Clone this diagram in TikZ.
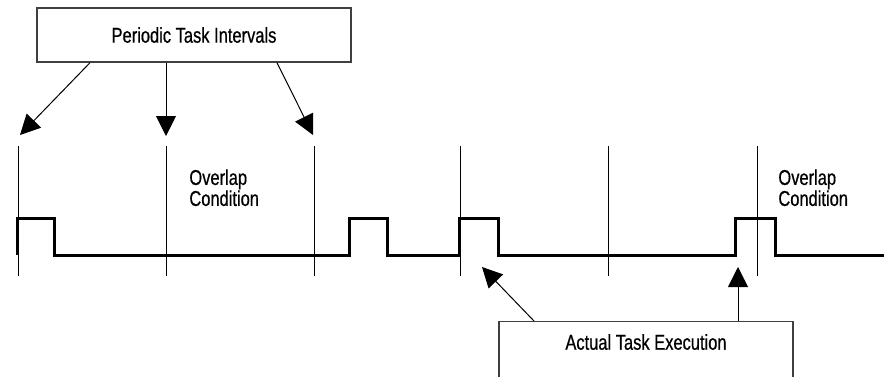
\documentclass[tikz,border=0pt]{standalone}
\usepackage{fontspec}
\setmainfont{Liberation Sans}[FakeStretch=0.77, FakeBold=0.6]
\usepackage{tikz}
\usetikzlibrary{arrows.meta,positioning}

\begin{document}
\begin{tikzpicture}[
    x=0.5pt, y=-0.5pt,
    every node/.style={font=\fontsize{10.7}{10.5}\selectfont},
    box/.style={
        rectangle,
        draw=black!75,
        line width=0.7pt,
        fill=white,
        text centered
    },
    arrow/.style={-{Triangle[length=10pt,width=10pt]}, line width=0.5pt},
    tick/.style={line width=0.5pt},
    signal/.style={line width=1.5pt, line join=miter}
]
\clip (0,0) rectangle (895,376);

% Nodes
\node[box, minimum width=157pt, minimum height=27pt] (periodic) at (194,35)
{Periodic Task Intervals};

\node[box, anchor=north, minimum width=147pt, inner ysep=6pt,
      text height=8pt, text depth=40pt] (execution) at (646,321)
{Actual Task Execution};

\node[anchor=north west, align=left, inner sep=0pt] (overlapa) at (189,169)
{Overlap\\Condition};
\node[anchor=north west, align=left, inner sep=0pt] (overlapb) at (778,169)
{Overlap\\Condition};

% Arrow ends
\coordinate (tipa) at (20,135);
\coordinate (tipb) at (166,136);
\coordinate (tipc) at (313,135);
\coordinate (tipd) at (482,267);
\coordinate (tipe) at (738,267);

% Interval lines
\draw[tick] (18,146) -- (18,276);
\draw[tick] (166,146) -- (166,276);
\draw[tick] (314,146) -- (314,276);
\draw[tick] (460,146) -- (460,276);
\draw[tick] (608,146) -- (608,276);
\draw[tick] (757,146) -- (757,276);

% Task execution
\draw[signal] (17,255) -- (17,218) -- (54,218) -- (54,255)
    -- (349,255) -- (349,218) -- (387,218) -- (387,255)
    -- (459,255) -- (459,218) -- (498,218) -- (498,255)
    -- (735,255) -- (735,218) -- (775,218) -- (775,255)
    -- (884,255);

% Arrows
\draw[arrow] ([xshift=-52pt]periodic.south) -- (tipa);
\draw[arrow] ([xshift=-14pt]periodic.south) -- (tipb);
\draw[arrow] ([xshift=41.5pt]periodic.south) -- (tipc);

\draw[arrow] ([xshift=-56pt]execution.north) -- (tipd);
\draw[arrow] ([xshift=46pt]execution.north) -- (tipe);

\end{tikzpicture}
\end{document}
